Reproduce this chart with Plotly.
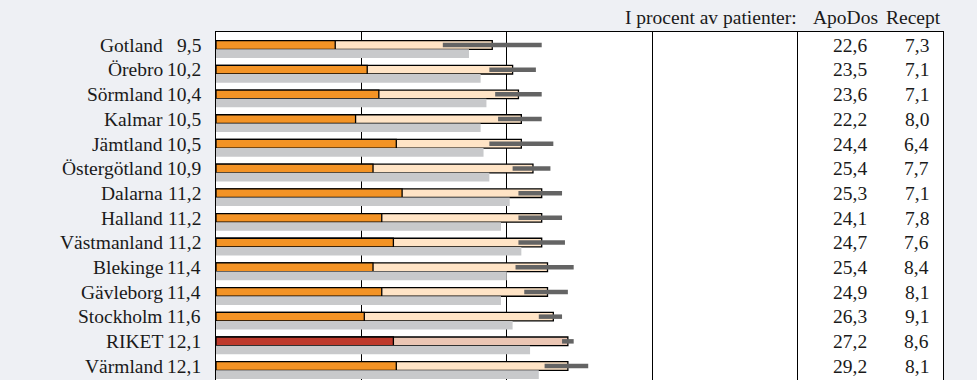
import plotly.graph_objects as go

regions = ["Gotland", "Örebro", "Sörmland", "Kalmar", "Jämtland", "Östergötland",
           "Dalarna", "Halland", "Västmanland", "Blekinge", "Gävleborg", "Stockholm",
           "RIKET", "Värmland"]
totals = [9.5, 10.2, 10.4, 10.5, 10.5, 10.9, 11.2, 11.2, 11.2, 11.4, 11.4, 11.6, 12.1, 12.1]
dark_part = [4.1, 5.2, 5.6, 4.8, 6.2, 5.4, 6.4, 5.7, 6.1, 5.4, 5.7, 5.1, 6.1, 6.2]
grey_vals = [8.7, 9.1, 9.3, 9.1, 9.2, 9.4, 10.1, 9.8, 10.5, 10.0, 9.8, 10.2, 10.8, 11.1]
ci_low = [7.8, 9.4, 9.6, 9.7, 9.4, 10.2, 10.4, 10.4, 10.4, 10.3, 10.6, 11.1, 11.9, 11.3]
ci_high = [11.2, 11.0, 11.2, 11.2, 11.6, 11.5, 11.9, 11.9, 12.0, 12.3, 12.1, 11.9, 12.3, 12.8]
apodos = [22.6, 23.5, 23.6, 22.2, 24.4, 25.4, 25.3, 24.1, 24.7, 25.4, 24.9, 26.3, 27.2, 29.2]
recept = [7.3, 7.1, 7.1, 8.0, 6.4, 7.7, 7.1, 7.8, 7.6, 8.4, 8.1, 9.1, 8.6, 8.1]
header = ["I procent av patienter:", "ApoDos", "Recept"]


def fmt(v):
    return f"{v:.1f}".replace(".", ",")


DARK = "#F39325"
LIGHT = "#FFE4C6"
DARK_R = "#BE3A2C"
LIGHT_R = "#EBC6B4"
GREY = "#C8C9CB"
FONT = "Liberation Serif"
FS = 19.5
TXT = "#1a1a1a"

dark_cols = [DARK_R if r == "RIKET" else DARK for r in regions]
light_cols = [LIGHT_R if r == "RIKET" else LIGHT for r in regions]

fig = go.Figure()
fig.add_trace(go.Bar(
    y=regions, x=totals, orientation="h", offsetgroup="main",
    marker=dict(color=light_cols, line=dict(color="black", width=1.3)),
    error_x=dict(type="data", symmetric=False,
                 array=[h - t for h, t in zip(ci_high, totals)],
                 arrayminus=[t - l for t, l in zip(totals, ci_low)],
                 color="#646464", thickness=4.5, width=0),
    hoverinfo="skip", showlegend=False))
fig.add_trace(go.Bar(
    y=regions, x=dark_part, orientation="h", offsetgroup="main",
    marker=dict(color=dark_cols, line=dict(color="black", width=1.3)),
    hoverinfo="skip", showlegend=False))
fig.add_trace(go.Bar(
    y=regions, x=grey_vals, orientation="h", offsetgroup="prev",
    marker=dict(color=GREY, line=dict(width=0)),
    hoverinfo="skip", showlegend=False))

ann = []
for i, r in enumerate(regions):
    ann.append(dict(x=0, y=r, xref="x", yref="y", text=r, showarrow=False,
                    xanchor="right", xshift=-51, yshift=4,
                    font=dict(family=FONT, size=FS, color=TXT)))
    ann.append(dict(x=0, y=r, xref="x", yref="y", text=fmt(totals[i]), showarrow=False,
                    xanchor="right", xshift=-13, yshift=4,
                    font=dict(family=FONT, size=FS, color=TXT)))
    ann.append(dict(x=22.45, y=r, xref="x", yref="y", text=fmt(apodos[i]), showarrow=False,
                    xanchor="right", yshift=4,
                    font=dict(family=FONT, size=FS, color=TXT)))
    ann.append(dict(x=24.6, y=r, xref="x", yref="y", text=fmt(recept[i]), showarrow=False,
                    xanchor="right", yshift=4,
                    font=dict(family=FONT, size=FS, color=TXT)))
for txt, xp in zip(header, [20.05, 22.85, 25.0]):
    ann.append(dict(x=xp, y=1, xref="x", yref="paper", text=txt, showarrow=False,
                    xanchor="right", yanchor="middle", yshift=15,
                    font=dict(family=FONT, size=FS, color=TXT)))

# page body has an 8px margin, so the figure is sized/offset to compensate
fig.update_layout(
    width=969, height=372,
    margin=dict(l=208, r=34, t=24, b=0),
    paper_bgcolor="#EEF0F4", plot_bgcolor="white",
    barmode="group", bargap=0.30, bargroupgap=0,
    annotations=ann,
    xaxis=dict(range=[0, 25], side="top", showline=True, linecolor="black", linewidth=1.3,
               showgrid=True, gridcolor="black", gridwidth=1, dtick=5, tick0=0,
               showticklabels=False, ticks="", zeroline=False, fixedrange=True),
    yaxis=dict(type="category", range=[13.39, -0.70], showline=True, mirror=True,
               linecolor="black", linewidth=1.3, showticklabels=False, ticks="",
               showgrid=False, zeroline=False, fixedrange=True),
)

fig.write_html("out.html", post_script="document.body.style.background='#EEF0F4';")
